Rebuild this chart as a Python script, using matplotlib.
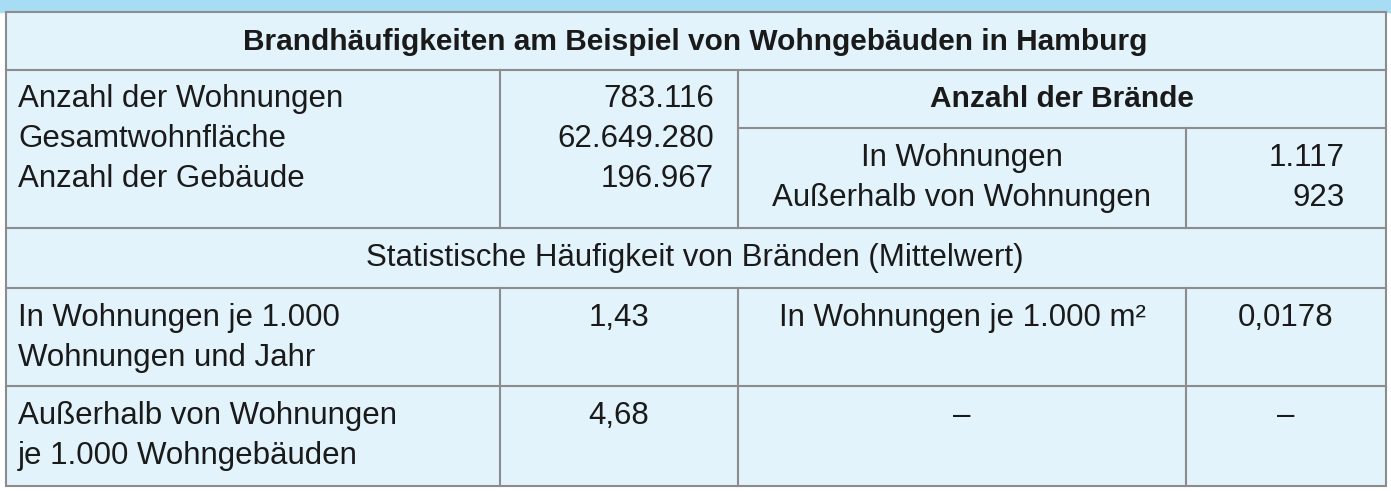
import matplotlib
matplotlib.use("Agg")
import matplotlib.pyplot as plt
from matplotlib.patches import Rectangle

title = "Brandhäufigkeiten am Beispiel von Wohngebäuden in Hamburg"
stock_labels = ["Anzahl der Wohnungen", "Gesamtwohnfläche", "Anzahl der Gebäude"]
stock_values = ["783.116", "62.649.280", "196.967"]
fires_header = "Anzahl der Brände"
fire_labels = ["In Wohnungen", "Außerhalb von Wohnungen"]
fire_values = ["1.117", "923"]
freq_header = "Statistische Häufigkeit von Bränden (Mittelwert)"
freq_rows = [
    [["In Wohnungen je 1.000", "Wohnungen und Jahr"], "1,43", "In Wohnungen je 1.000 m²", "0,0178"],
    [["Außerhalb von Wohnungen", "je 1.000 Wohngebäuden"], "4,68", "–", "–"],
]

W, H = 1391, 491
fig = plt.figure(figsize=(W/100, H/100), dpi=100)
ax = fig.add_axes([0, 0, 1, 1])
ax.set_xlim(0, W); ax.set_ylim(H, 0); ax.axis("off")

bg = "#e2f3fb"; top = "#a6dcf4"; lc = "#8c8c8c"
ax.add_patch(Rectangle((0, 0), W, H, color="white"))
ax.add_patch(Rectangle((0, 0), W, 12, color=top))
L, R, B = 6, 1386, 486
ax.add_patch(Rectangle((L, 12), R-L, B-12, facecolor=bg, edgecolor=lc, lw=1.5))

def hl(y, x0=L, x1=R): ax.plot([x0, x1], [y, y], color=lc, lw=1.5)
def vl(x, y0, y1): ax.plot([x, x], [y0, y1], color=lc, lw=1.5)
hl(70); hl(228); hl(288); hl(386); hl(128, 738, R)
vl(500, 70, 228); vl(738, 70, 228); vl(1186, 128, 228)
for x in (500, 738, 1186): vl(x, 288, B)

fam = ["Liberation Sans", "DejaVu Sans"]
def t(x, y, s, ha="left", bold=False, fs=22.5):
    ax.text(x, y, s, ha=ha, va="center", fontsize=fs, family=fam,
            fontweight="bold" if bold else "normal", color="#1a1a1a")

t(695, 42, title, ha="center", bold=True, fs=21.5)
for i, (lab, val) in enumerate(zip(stock_labels, stock_values)):
    y = 99 + i*40
    t(18, y, lab); t(714, y, val, ha="right")
t(1062, 99, fires_header, ha="center", bold=True, fs=21.5)
for i, (lab, val) in enumerate(zip(fire_labels, fire_values)):
    y = 158 + i*40
    t(962, y, lab, ha="center"); t(1345, y, val, ha="right")
t(695, 258, freq_header, ha="center")
for r, y0 in enumerate([318, 416]):
    a, b, c, d = freq_rows[r]
    t(18, y0, a[0]); t(18, y0 + 40, a[1])
    t(619, y0, b, ha="center")
    t(962, y0, c, ha="center")
    t(1286, y0, d, ha="center")

fig.savefig("out.png", dpi=100)
